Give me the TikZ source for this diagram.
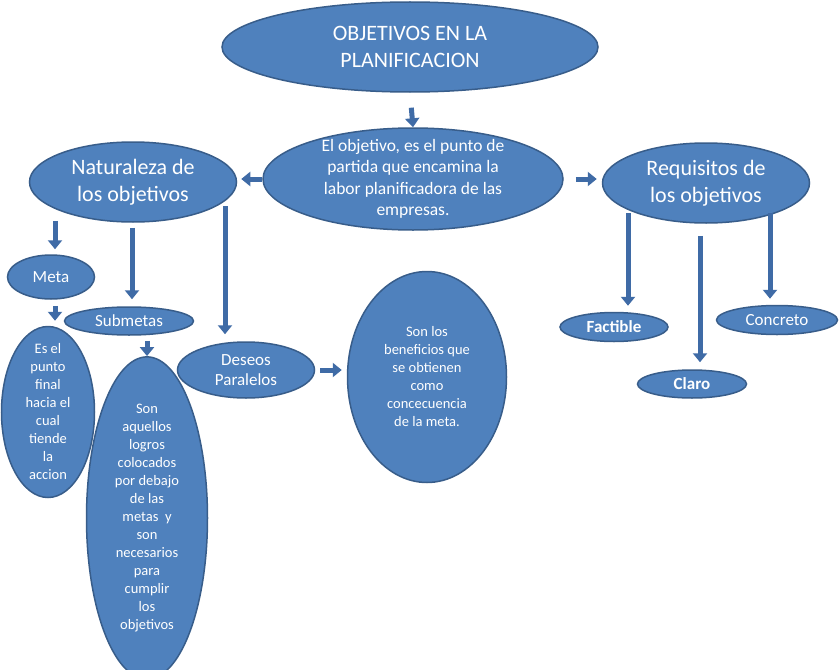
\documentclass[tikz,border=0pt]{standalone}
\usepackage{fontspec}
\setmainfont{Carlito}
\usetikzlibrary{arrows.meta,shapes.geometric,calc}
\definecolor{bubfill}{HTML}{4F81BD}
\definecolor{bubline}{HTML}{385D8A}
\definecolor{arrblue}{HTML}{3F6BA6}
\tikzset{
  bub/.style={ellipse,draw=bubline,fill=bubfill,line width=1.5pt,
              inner sep=0pt,text=white,align=center},
  bigtxt/.style={font=\fontsize{22}{27}\selectfont},
  midtxt/.style={font=\fontsize{17.5}{21.5}\selectfont},
  labtxt/.style={font=\fontsize{17}{20}\selectfont},
  smalltxt/.style={font=\fontsize{14.5}{18}\selectfont},
  blockarr/.style={-{Triangle[length=9pt,width=14pt]},line width=5pt,draw=arrblue}
}

\begin{document}
\begin{tikzpicture}[x=1pt,y=-1pt]
  \fill[white] (0,0) rectangle (840,669);
  \useasboundingbox (0,0) rectangle (840,669);

  % main row
  \node[bub,bigtxt,minimum width=376pt,minimum height=90pt] (top) at (410,47)
    {OBJETIVOS EN LA\\PLANIFICACION};
  \node[bub,midtxt,minimum width=300pt,minimum height=102pt,inner ysep=-6pt] (mid) at (413,179)
    {El objetivo, es el punto de\\partida que encamina la\\labor planificadora de las\\empresas.};
  \node[bub,bigtxt,minimum width=207pt,minimum height=80pt] (nat) at (133,182)
    {Naturaleza de\\los objetivos};
  \node[bub,bigtxt,minimum width=207pt,minimum height=80pt] (req) at (706,183)
    {Requisitos de\\los objetivos};

  % left branch
  \node[bub,labtxt,minimum width=87pt,minimum height=44pt] (meta) at (51,277) {Meta};
  \node[bub,labtxt,minimum width=129pt,minimum height=28pt] (sub) at (129,321) {Submetas};
  \node[bub,labtxt,minimum width=137pt,minimum height=56pt] (des) at (246,370)
    {Deseos\\Paralelos};
  \node[bub,smalltxt,minimum width=93pt,minimum height=171pt,inner ysep=-11pt] (fin) at (48,412)
    {Es el\\punto\\final\\hacia el\\cual\\tiende\\la\\accion};
  \node[bub,smalltxt,minimum width=121pt,minimum height=297pt] (aqu) at (147,518)
    {Son\\aquellos\\logros\\colocados\\por debajo\\de las\\metas~ y\\son\\necesarios\\para\\cumplir\\los\\objetivos};
  \node[bub,smalltxt,minimum width=159pt,minimum height=211pt] (ben) at (427,377)
    {Son los\\beneficios que\\se obtienen\\como\\concecuencia\\de la meta.};

  % right branch
  \node[bub,labtxt,font=\fontsize{17}{20}\selectfont\bfseries,minimum width=108pt,minimum height=29pt] (fac) at (614,327) {Factible};
  \node[bub,labtxt,minimum width=121pt,minimum height=29pt] (con) at (777,320) {Concreto};
  \node[bub,labtxt,font=\fontsize{17}{20}\selectfont\bfseries,minimum width=109pt,minimum height=28pt] (cla) at (692,384) {Claro};

  % arrows
  \draw[blockarr,shorten <=15pt] (top.south) -- (mid.north);
  \draw[blockarr,shorten >=4pt] (mid.west) -- (mid.west -| nat.east);
  \draw[blockarr,shorten <=12pt,shorten >=5pt] (mid.east) -- (mid.east -| req.west);
  \draw[blockarr,shorten <=-2pt,shorten >=5pt] ([xshift=4pt]nat.south -| meta.north) -- ([xshift=4pt]meta.north);
  \draw[blockarr,shorten <=5pt,shorten >=7pt] ([xshift=3pt]nat.south -| sub.north) -- ([xshift=3pt]sub.north);
  \draw[blockarr,shorten >=7pt] ($(nat.center)+(92,24)$) -- ([xshift=-21pt]des.north);
  \draw[blockarr,shorten <=6pt,shorten >=5pt] ([xshift=4pt]meta.south) -- ([xshift=4pt]meta.south |- fin.north);
  \draw[blockarr,shorten <=5pt] (sub.south -| aqu.north) -- (aqu.north);
  \draw[blockarr,shorten <=5pt,shorten >=5pt] (des.east) -- (des.east -| ben.west);
  \draw[blockarr,shorten >=6pt] ($(req.center)+(-78,30)$) -- ([xshift=14pt]fac.north);
  \draw[blockarr,shorten <=12pt,shorten >=7pt] ([xshift=-6pt]req.south) -- ([xshift=8pt]cla.north);
  \draw[blockarr,shorten >=6pt] ($(req.center)+(64,30)$) -- ([xshift=-7pt]con.north);
\end{tikzpicture}
\end{document}
